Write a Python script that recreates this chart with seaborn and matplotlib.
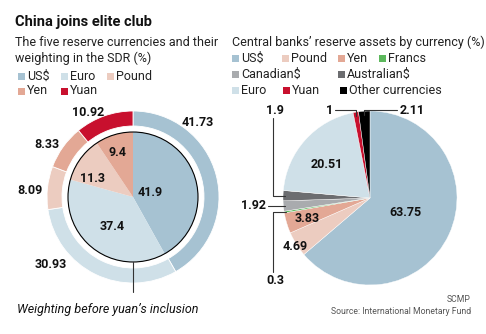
import matplotlib
matplotlib.use("Agg")
import matplotlib.pyplot as plt
from matplotlib.patches import Rectangle, Circle
import numpy as np
import seaborn as sns

sns.set_style("white")
plt.rcParams['font.family'] = ['Roboto', 'DejaVu Sans']

# ---------------- data ----------------
sdr_currencies = ["US$", "Euro", "Pound", "Yen", "Yuan"]
sdr_new = [41.73, 30.93, 8.09, 8.33, 10.92]
sdr_old_currencies = ["US$", "Euro", "Pound", "Yen"]
sdr_old = [41.9, 37.4, 11.3, 9.4]

reserve_currencies = ["US$", "Pound", "Yen", "Francs", "Canadian$",
                      "Australian$", "Euro", "Yuan", "Other currencies"]
reserve_values = [63.75, 4.69, 3.83, 0.3, 1.92, 1.9, 20.51, 1, 2.11]

colors = {
    "US$": "#a6c2d2", "Euro": "#cfe0e8", "Pound": "#ecccc0", "Yen": "#e3a895",
    "Yuan": "#c8102e", "Francs": "#5cb85c", "Canadian$": "#a9abae",
    "Australian$": "#6c6d70", "Other currencies": "#000000",
}

W, H = 486, 334
fig = plt.figure(figsize=(W / 100, H / 100), dpi=100)
ax = fig.add_axes([0, 0, 1, 1])

def Y(y):
    return H - y

# ---------------- left donut ----------------
lc = (133, Y(197))
ax.pie(sdr_new, colors=[colors[c] for c in sdr_currencies], radius=86, center=lc,
       startangle=90, counterclock=False,
       wedgeprops=dict(width=15, edgecolor="white", linewidth=0.6))
ax.pie(sdr_old, colors=[colors[c] for c in sdr_old_currencies], radius=65, center=lc,
       startangle=90, counterclock=False, wedgeprops=dict(edgecolor="none"))
ax.add_patch(Circle(lc, 65, fill=False, edgecolor="black", linewidth=0.8))

bold_lab = dict(fontsize=9, fontweight="bold", color="#111111", ha="center", va="center")
outer_pos = [(198, 123), (51, 265), (30, 190), (47, 145), (88, 113)]
for v, (x, y) in zip(sdr_new, outer_pos):
    ax.text(x, Y(y), f"{v:g}", **bold_lab)
inner_pos = [(150, 192), (112, 227), (92, 179), (117, 152)]
for v, (x, y) in zip(sdr_old, inner_pos):
    ax.text(x, Y(y), f"{v:g}", **bold_lab)

ax.plot([lc[0], lc[0]], [lc[1] - 65, Y(292)], color="#333333", lw=0.8)
ax.text(17, Y(310), "Weighting before yuan\u2019s inclusion", fontsize=9, style="italic",
        ha="left", va="center", color="#111111")

# ---------------- right pie ----------------
rc = (370, Y(198))
R = 87
ax.pie(reserve_values, colors=[colors[c] for c in reserve_currencies], radius=R, center=rc,
       startangle=90, counterclock=False,
       wedgeprops=dict(edgecolor="white", linewidth=0.3))

inside_pos = {"US$": (405, 213), "Euro": (327, 165), "Yen": (307, 219), "Pound": (295, 247)}
for c, v in zip(reserve_currencies, reserve_values):
    if c in inside_pos:
        x, y = inside_pos[c]
        ax.text(x, Y(y), f"{v:g}", **bold_lab)

# anchors on wedge mid-angles
cum = np.cumsum([0] + reserve_values)
def anchor(i, r=0.98):
    mid = (cum[i] + cum[i + 1]) / 2 / cum[-1] * 360
    th = np.deg2rad(mid)
    return rc[0] + R * r * np.sin(th), rc[1] + R * r * np.cos(th)

lk = dict(color="#333333", lw=0.8)
idx = {c: i for i, c in enumerate(reserve_currencies)}
# Australian$ 1.9
ax_, ay_ = anchor(idx["Australian$"])
ax.plot([ax_, 273, 273], [ay_, ay_, Y(118)], **lk)
ax.text(275, Y(110), f"{reserve_values[idx['Australian$']]:g}", **bold_lab)
# Canadian$ 1.92
cx_, cy_ = anchor(idx["Canadian$"])
ax.plot([cx_, 268], [cy_, cy_], **lk)
ax.text(266, cy_, f"{reserve_values[idx['Canadian$']]:g}", **{**bold_lab, "ha": "right"})
# Francs 0.3
fx_, fy_ = anchor(idx["Francs"])
ax.plot([fx_, 273, 273], [fy_, fy_, Y(272)], **lk)
ax.text(275, Y(281), f"{reserve_values[idx['Francs']]:g}", **bold_lab)
# Yuan 1
yx_, yy_ = anchor(idx["Yuan"], 0.96)
ax.plot([yx_, yx_, 335], [yy_, Y(110), Y(110)], **lk)
ax.text(333, Y(110), f"{reserve_values[idx['Yuan']]:g}", **{**bold_lab, "ha": "right"})
# Other 2.11
ox_, oy_ = anchor(idx["Other currencies"], 0.96)
ax.plot([ox_, ox_, 397], [oy_, Y(110), Y(110)], **lk)
ax.text(400, Y(110), f"{reserve_values[idx['Other currencies']]:g}", **{**bold_lab, "ha": "left"})

# ---------------- titles & legends ----------------
ax.text(15, Y(22), "China joins elite club", fontsize=10.5, fontweight="bold",
        ha="left", va="center", color="#111111")
sub = dict(fontsize=9, ha="left", va="center", color="#222222")
ax.text(15, Y(42), "The five reserve currencies and their", **sub)
ax.text(15, Y(58), "weighting in the SDR (%)", **sub)
ax.text(232, Y(42), "Central banks\u2019 reserve assets by currency (%)", **sub)

def legend_item(x, y, name):
    ax.add_patch(Rectangle((x, Y(y) - 3.5), 7, 7, facecolor=colors[name], edgecolor="none"))
    ax.text(x + 9, Y(y), name, **sub)

left_leg = [("US$", 18, 76), ("Euro", 61, 76), ("Pound", 107, 76),
            ("Yen", 18, 91), ("Yuan", 61, 91)]
for name, x, y in left_leg:
    legend_item(x, y, name)
right_leg = [("US$", 232, 58), ("Pound", 282, 58), ("Yen", 338, 58), ("Francs", 379, 58),
             ("Canadian$", 232, 74), ("Australian$", 338, 74),
             ("Euro", 232, 90), ("Yuan", 283, 90), ("Other currencies", 340, 90)]
for name, x, y in right_leg:
    legend_item(x, y, name)

src = dict(fontsize=6.2, ha="right", va="center", color="#555555")
ax.text(471, Y(300), "SCMP", **src)
ax.text(471, Y(312), "Source: International Monetary Fund", **src)

ax.set_xlim(0, W)
ax.set_ylim(0, H)
ax.set_aspect("equal")
ax.axis("off")
fig.savefig("out.png", dpi=100)
